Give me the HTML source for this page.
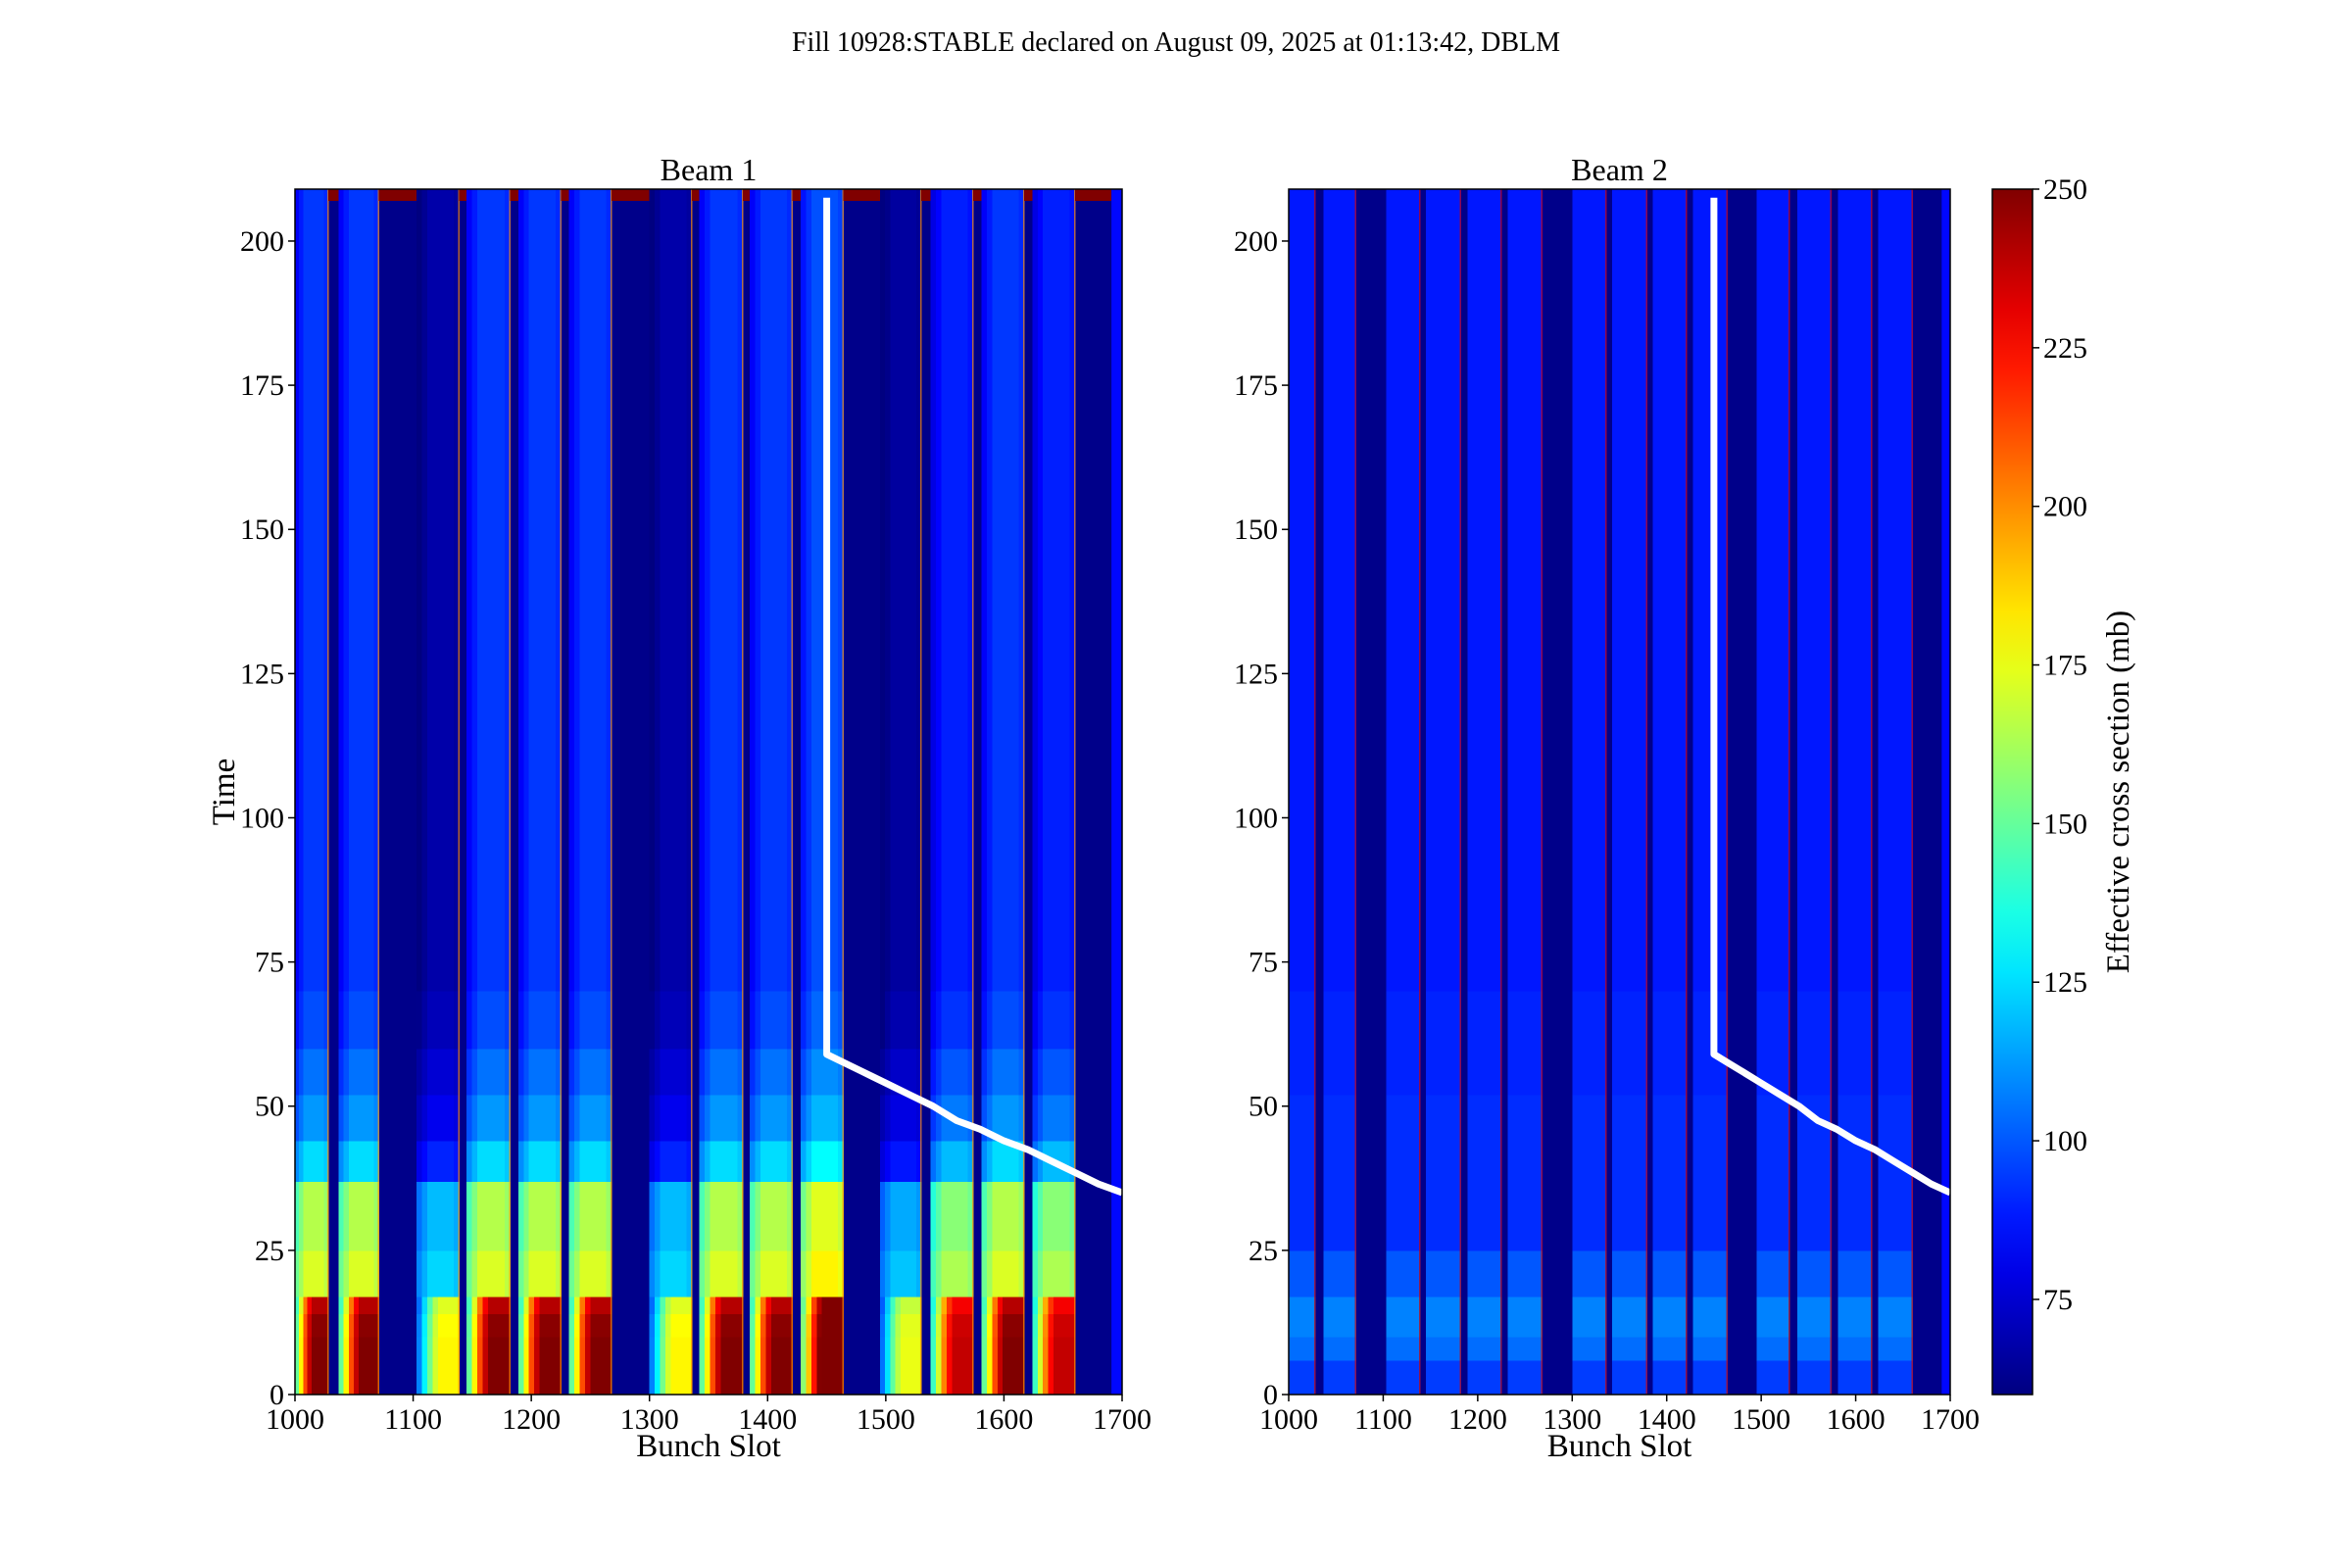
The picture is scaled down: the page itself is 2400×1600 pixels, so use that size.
<!DOCTYPE html>
<html><head><meta charset="utf-8"><style>
html,body{margin:0;padding:0;background:#fff}
svg{display:block;font-family:"Liberation Serif",serif}
</style></head><body>
<svg id="fig" width="2400" height="1600" viewBox="0 0 2400 1600" xmlns="http://www.w3.org/2000/svg">
<rect width="2400" height="1600" fill="#fff"/>
<text x="1200" y="52" font-size="28" text-anchor="middle">Fill 10928:STABLE declared on August 09, 2025 at 01:13:42, DBLM</text>
<g id="p1"></g>
<g id="p2"></g>
<g id="cb"></g>
</svg>
<script>
// ---- data ----
const trainStart = [1000,1037,1103,1145,1189,1232,1300,1342,1385,1428,1495,1538,1581,1624];
const trainEnd   = [1028,1071,1139,1182,1225,1268,1336,1379,1421,1464,1530,1574,1617,1660];
const beam1Scale = [1.0,1.0,0.72,1.0,1.0,1.0,0.72,1.0,1.0,1.05,0.7,0.95,1.0,0.95];
const timeEdges  = [0,3,6,10,14,17,25,37,44,52,60,70,209];
const beam1Profile = [250,250,250,248,240,172,165,125,112,105,98,94];
const beam2Profile = [95,95,104,108,108,100,92,92,92,90,90,88];
const edgeRamp  = [0.6,0.72,0.85,0.95,1,1,1,1];
const upperRamp = [0.88,0.94,1,1,1,1,1,0.97];
const gapValue = 62;
const tailStrip = [1691,1700];
const tailValue = 85;
const lineSlot = [1450,1450,1465,1480,1500,1520,1540,1560,1580,1600,1620,1640,1660,1680,1700];
const lineTime = [207.5,59,57.5,56,54,52,50,47.5,46,44,42.5,40.5,38.5,36.5,35];
const yTicks = [0,25,50,75,100,125,150,175,200];
const xTicks = [1000,1100,1200,1300,1400,1500,1600,1700];
const cbTicks = [75,100,125,150,175,200,225,250];
const vmin = 60, vmax = 250;
const xmin = 1000, xmax = 1700, ymin = 0, ymax = 209;

const NS = "http://www.w3.org/2000/svg";
function jet(v){
  let x = Math.max(0, Math.min(1, (v - vmin)/(vmax - vmin)));
  const c = t => Math.round(255*Math.max(0, Math.min(1, 1.5 - Math.abs(4*x - t))));
  return `rgb(${c(3)},${c(2)},${c(1)})`;
}
function el(tag, attrs, parent){
  const e = document.createElementNS(NS, tag);
  for (const k in attrs) e.setAttribute(k, attrs[k]);
  parent.appendChild(e); return e;
}
const T = 193, B = 1423;
function yS(t){ return B - (t - ymin)/(ymax - ymin)*(B - T); }

function panel(gid, L, R, title, profile, scales, isBeam1, showYLabel){
  const g = document.getElementById(gid);
  const xS = s => L + (s - xmin)/(xmax - xmin)*(R - L);
  const bg = el('rect', {x:L, y:T, width:R-L, height:B-T, fill:jet(gapValue)}, g);
  
  
  const ts = el('rect', {x:xS(tailStrip[0]), y:T, width:xS(tailStrip[1])-xS(tailStrip[0]), height:B-T, fill:jet(tailValue)}, g);
  
  
  const cells = el('g', {'shape-rendering':'crispEdges'}, g);
  
  
  for (let i = 0; i < trainStart.length; i++){
    const n = edgeRamp.length;
    const w = (trainEnd[i] - trainStart[i]) / n;
    for (let c = 0; c < n; c++){
      const s0 = trainStart[i] + c*w, s1 = s0 + w;
      for (let b = 0; b < profile.length; b++){
        let v = profile[b] * scales[i];
        if (isBeam1) v *= (b < 5 ? edgeRamp[c] : upperRamp[c]);
        const r = el('rect', {x:xS(s0), y:yS(timeEdges[b+1]), width:xS(s1)-xS(s0)+0.6, height:yS(timeEdges[b])-yS(timeEdges[b+1])+0.6, fill:jet(v)}, cells);
        
        
      }
    }
    const ln = el('rect', {x:xS(trainEnd[i])-1, y:T, width:1.5, height:B-T, fill:jet(isBeam1?200:235), opacity:0.7}, cells);
    
    
    if (isBeam1){
      const top = el('rect', {x:xS(trainEnd[i]), y:yS(ymax), width:xS((trainStart[i+1]||1691))-xS(trainEnd[i]), height:yS(207)-yS(ymax), fill:jet(250)}, cells);
      
      
    }
  }
  const pts = lineSlot.map((s,k)=>xS(s).toFixed(1)+','+yS(lineTime[k]).toFixed(1)).join(' ');
  const pl = el('polyline', {points:pts, fill:'none', stroke:'#fff', 'stroke-width':7, 'stroke-linejoin':'round'}, g);
  
  
  const fr = el('rect', {x:L, y:T, width:R-L, height:B-T, fill:'none', stroke:'#000', 'stroke-width':1.5}, g);
  
  
  yTicks.forEach(t=>{
    const y = yS(t);
    el('line', {x1:L-7, x2:L, y1:y, y2:y, stroke:'#000', 'stroke-width':1.5}, g);
    const tx = el('text', {x:L-11, y:y+10, 'font-size':30, 'text-anchor':'end'}, g);
    tx.textContent = t;
    
    
  });
  xTicks.forEach(s=>{
    const x = xS(s);
    el('line', {x1:x, x2:x, y1:B, y2:B+7, stroke:'#000', 'stroke-width':1.5}, g);
    const tx = el('text', {x:x, y:B+35, 'font-size':30, 'text-anchor':'middle'}, g);
    tx.textContent = s;
    
    
  });
  const xl = el('text', {x:(L+R)/2, y:1486, 'font-size':33, 'text-anchor':'middle'}, g);
  xl.textContent = 'Bunch Slot';
  
  
  const tt = el('text', {x:(L+R)/2, y:184, 'font-size':32, 'text-anchor':'middle'}, g);
  tt.textContent = title;
  
  
  if (showYLabel){
    const yl = el('text', {x:0, y:0, 'font-size':33, 'text-anchor':'middle', transform:`translate(239,808) rotate(-90)`}, g);
    yl.textContent = 'Time';
    
    
  }
}
panel('p1', 301, 1145, 'Beam 1', beam1Profile, beam1Scale, true, true);
panel('p2', 1315, 1990, 'Beam 2', beam2Profile, trainStart.map(()=>1), false, false);

(function(){
  const g = document.getElementById('cb');
  const L = 2033, R = 2074;
  const defs = el('defs', {}, g);
  const lg = el('linearGradient', {id:'jetg', x1:0, y1:1, x2:0, y2:0}, defs);
  for (let k = 0; k <= 20; k++){
    el('stop', {offset:(k/20), 'stop-color':jet(vmin + k/20*(vmax-vmin))}, lg);
  }
  const bar = el('rect', {x:L, y:T, width:R-L, height:B-T, fill:'url(#jetg)', stroke:'#000', 'stroke-width':1.5}, g);
  
  
  const cy = v => B - (v - vmin)/(vmax - vmin)*(B - T);
  cbTicks.forEach(v=>{
    const y = cy(v);
    el('line', {x1:R, x2:R+7, y1:y, y2:y, stroke:'#000', 'stroke-width':1.5}, g);
    const tx = el('text', {x:R+11, y:y+10, 'font-size':30}, g);
    tx.textContent = v;
    
    
  });
  const lb = el('text', {x:0, y:0, 'font-size':33, 'text-anchor':'middle', transform:'translate(2172,808) rotate(-90)'}, g);
  lb.textContent = 'Effective cross section (mb)';
  
  
})();
</script>
</body></html>
